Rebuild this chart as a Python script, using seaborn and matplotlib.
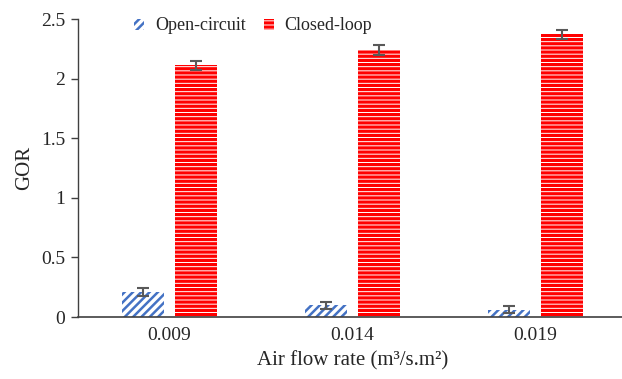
import matplotlib
matplotlib.use("Agg")
import matplotlib.pyplot as plt
import seaborn as sns
import pandas as pd

# Data
air_flow = ["0.009", "0.014", "0.019"]
open_circuit = [0.21, 0.10, 0.06]
closed_loop = [2.11, 2.24, 2.37]
open_err = [0.03, 0.03, 0.03]
closed_err = [0.04, 0.04, 0.04]
series_names = ["Open-circuit", "Closed-loop"]
y_ticks = [0, 0.5, 1, 1.5, 2, 2.5]

df = pd.DataFrame({
    "flow": air_flow * 2,
    "GOR": open_circuit + closed_loop,
    "system": [series_names[0]] * 3 + [series_names[1]] * 3,
})

sns.set_style("white")
plt.rcParams["font.family"] = ["Liberation Serif", "DejaVu Serif"]
plt.rcParams["hatch.linewidth"] = 2.0

fig = plt.figure(figsize=(6.22, 3.79), dpi=100)
W, H = 622, 379
ax = fig.add_axes([78 / W, (H - 317) / H, (627 - 78) / W, (317 - 19) / H])

blue = "#4472C4"
red = "#FF0000"
sns.barplot(data=df, x="flow", y="GOR", hue="system", hue_order=series_names,
            order=air_flow, palette=["white", "white"], width=0.574,
            gap=0.2, errorbar=None, ax=ax, legend=True)

styles = {series_names[0]: (blue, "////", 1.8),
          series_names[1]: (red, "----", 2.3)}
errs = {series_names[0]: open_err, series_names[1]: closed_err}


def style_patch(p, name):
    color, hatch, hlw = styles[name]
    p.set_facecolor("white")
    p.set_edgecolor(color)
    p.set_hatch(hatch)
    p.set_linewidth(0)
    if hasattr(p, "set_hatch_linewidth"):
        p.set_hatch_linewidth(hlw)


for container, name in zip(ax.containers, series_names):
    xs, ys = [], []
    for bar in container:
        style_patch(bar, name)
        xs.append(bar.get_x() + bar.get_width() / 2)
        ys.append(bar.get_height())
    ax.errorbar(xs, ys, yerr=errs[name], fmt="none", ecolor="#595959",
                elinewidth=1.5, capsize=4, capthick=1.5, zorder=5)

ax.set_ylim(0, 2.5)
ax.set_xlim(-0.5, 2.5)
ax.set_yticks(y_ticks)
ax.set_yticklabels([f"{t:g}" for t in y_ticks])
ax.tick_params(axis="y", which="both", left=True, direction="out", length=5,
               width=1, color="#404040", labelsize=14, pad=4)
ax.tick_params(axis="x", bottom=False, labelsize=14, pad=4)
for s in ["top", "right"]:
    ax.spines[s].set_visible(False)
ax.spines["left"].set_color("#404040")
ax.spines["bottom"].set_color("#404040")
ax.spines["left"].set_linewidth(1)
ax.spines["bottom"].set_linewidth(1.2)

ax.set_ylabel("GOR", fontsize=15, labelpad=5)
ax.set_xlabel("Air flow rate (m³/s.m²)", fontsize=15, labelpad=5)

handles, labels = ax.get_legend_handles_labels()
leg = ax.legend(handles, labels, loc="center",
                bbox_to_anchor=(253 / W, 1 - 26 / H),
                bbox_transform=fig.transFigure, ncol=2, frameon=False,
                fontsize=13, handlelength=0.55, handleheight=0.55,
                handletextpad=0.6, columnspacing=1.0, borderpad=0)
for h, name in zip(leg.get_patches(), series_names):
    style_patch(h, name)

fig.savefig("out.png", dpi=100)
